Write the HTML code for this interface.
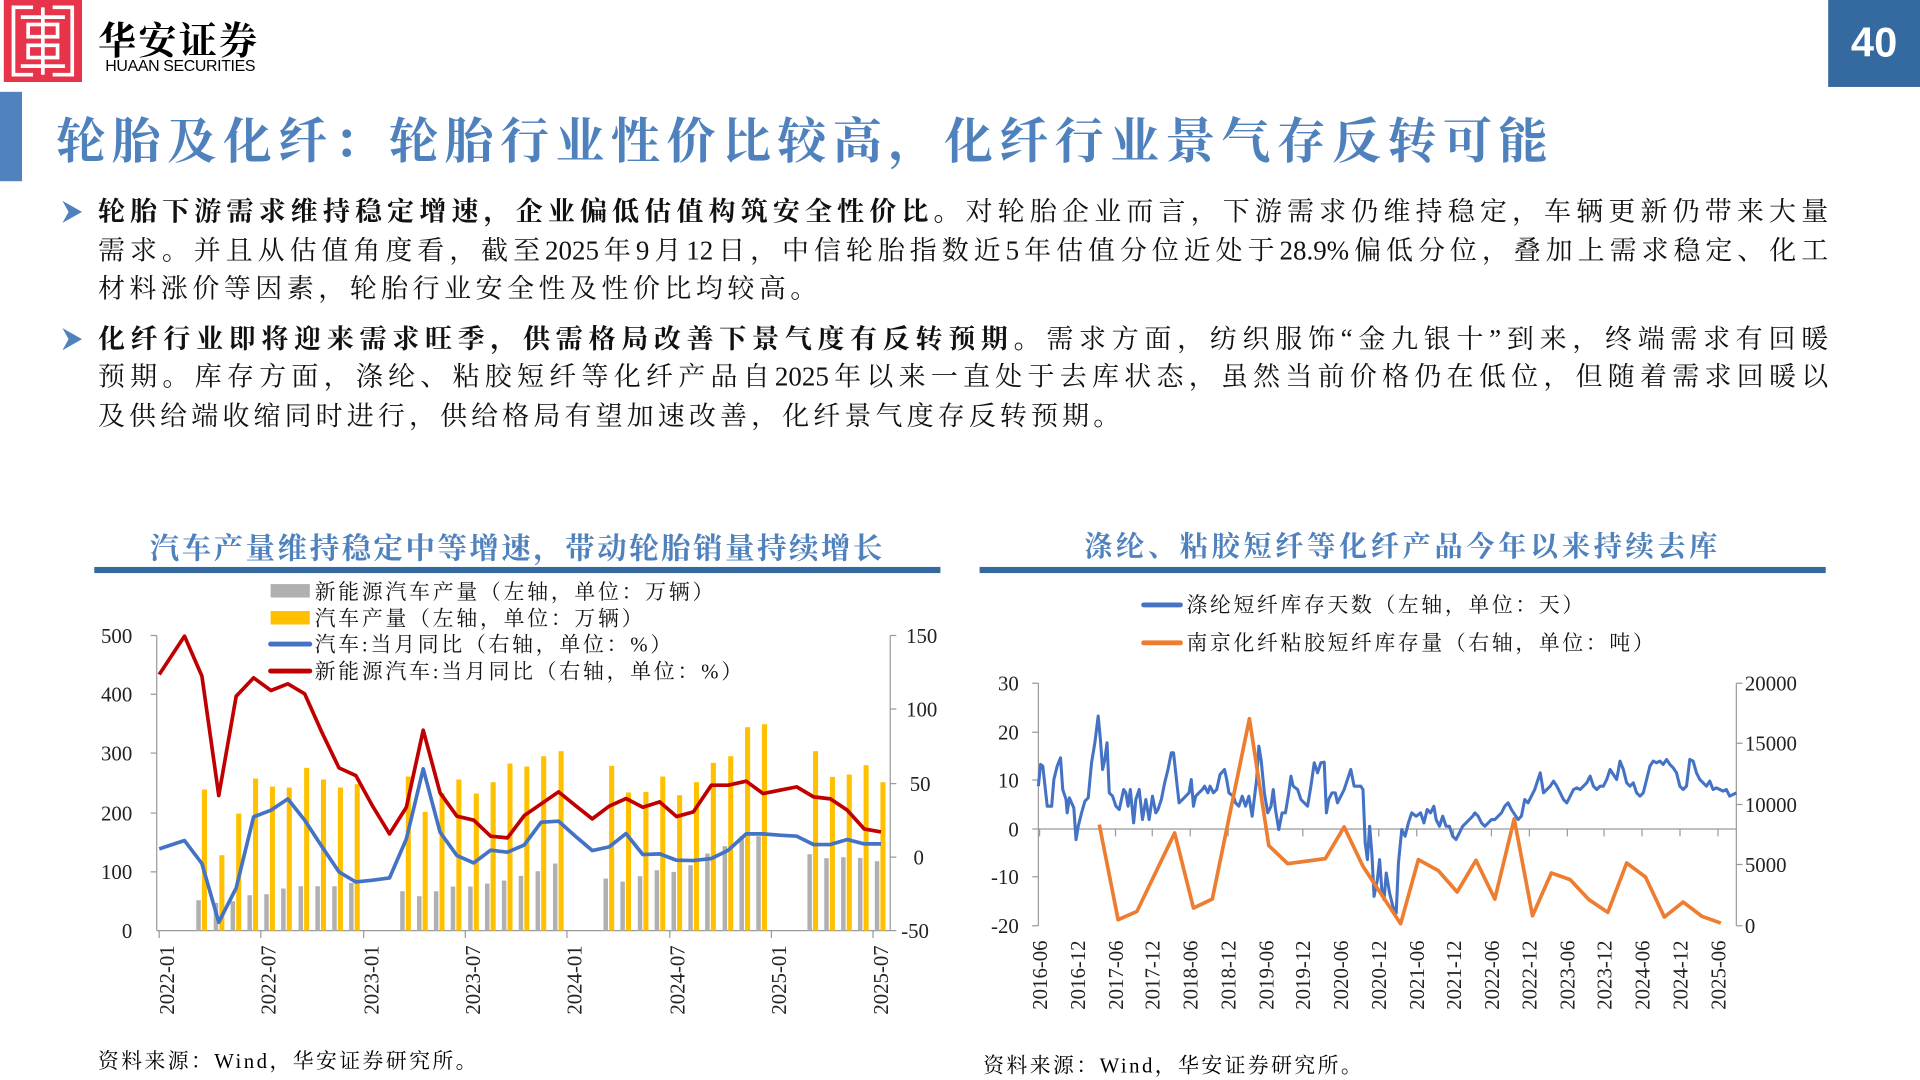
<!DOCTYPE html>
<html><head><meta charset="utf-8"><style>
html,body{margin:0;padding:0;width:1920px;height:1080px;overflow:hidden;background:#fff}
#r{position:absolute;left:0;top:0;width:1568px;height:882px;transform:scale(1.22449);transform-origin:0 0;font-family:"Liberation Serif","Noto Serif CJK SC",serif}
.a{position:absolute;white-space:nowrap}
.ln{position:absolute;left:80px;width:1413px;font-size:22px;line-height:32px;text-align:justify;text-align-last:justify;color:#111}
.b{font-weight:bold}
</style></head><body><div id="r">
<svg class="a" style="left:3px;top:0" width="64" height="67" viewBox="0 0 64 67">
<rect width="64" height="67" fill="#e8344a"/>
<g fill="none" stroke="#fff" stroke-width="3">
<path d="M24 6H8V61H24M40 6H56V61H40"/>
<rect x="20" y="20" width="24" height="10"/><rect x="20" y="37" width="24" height="10"/>
<path d="M32 6V61M14 14H50M14 54H50"/>
</g></svg>
<div class="a" style="left:80px;top:8px;font-size:31px;font-family:'Noto Serif CJK SC',serif;font-weight:bold;letter-spacing:2px">华安证券</div>
<div class="a" style="left:86px;top:46px;font-size:13px;font-family:'Liberation Sans',sans-serif;letter-spacing:-0.3px">HUAAN SECURITIES</div>
<div class="a" style="left:1493px;top:0;width:75px;height:71px;background:#346a9f;color:#fff;font:bold 34px 'Liberation Sans',sans-serif;text-align:center;line-height:71px">40</div>
<div class="a" style="left:0;top:75px;width:18px;height:73px;background:#5082be"></div>
<div class="a" style="left:46px;top:86px;font-size:40px;line-height:54px;font-weight:bold;color:#4f81bd;font-family:'Noto Serif CJK SC',serif;letter-spacing:5.3px">轮胎及化纤：轮胎行业性价比较高，化纤行业景气存反转可能</div>
<svg class="a" style="left:50px;top:163px" width="18" height="20"><path d="M1 1L17 10L1 19L6 10Z" fill="#4f81bd"/></svg>
<svg class="a" style="left:50px;top:267px" width="18" height="20"><path d="M1 1L17 10L1 19L6 10Z" fill="#4f81bd"/></svg>
<div class="ln" style="top:157px"><span class="b">轮胎下游需求维持稳定增速，企业偏低估值构筑安全性价比。</span>对轮胎企业而言，下游需求仍维持稳定，车辆更新仍带来大量</div>
<div class="ln" style="top:189px">需求。并且从估值角度看，截至2025年9月12日，中信轮胎指数近5年估值分位近处于28.9%偏低分位，叠加上需求稳定、化工</div>
<div class="ln" style="top:220px;text-align-last:left;letter-spacing:3.7px">材料涨价等因素，轮胎行业安全性及性价比均较高。</div>
<div class="ln" style="top:261px"><span class="b">化纤行业即将迎来需求旺季，供需格局改善下景气度有反转预期。</span>需求方面，纺织服饰“金九银十”到来，终端需求有回暖</div>
<div class="ln" style="top:292px">预期。库存方面，涤纶、粘胶短纤等化纤产品自2025年以来一直处于去库状态，虽然当前价格仍在低位，但随着需求回暖以</div>
<div class="ln" style="top:324px;text-align-last:left;letter-spacing:3.4px">及供给端收缩同时进行，供给格局有望加速改善，化纤景气度存反转预期。</div>

<div class="a" style="left:77px;width:691px;top:428px;text-align:center;font-size:24px;font-weight:bold;color:#4f81bd;letter-spacing:2.1px;font-family:'Noto Serif CJK SC',serif">汽车产量维持稳定中等增速，带动轮胎销量持续增长</div>
<div class="a" style="left:800px;width:691px;top:428px;text-align:center;font-size:23px;font-weight:bold;color:#4f81bd;letter-spacing:3px;font-family:'Noto Serif CJK SC',serif">涤纶、粘胶短纤等化纤产品今年以来持续去库</div>
<div class="a" style="left:77px;top:463px;width:691px;height:5px;background:#346a9f"></div>
<div class="a" style="left:800px;top:463px;width:691px;height:5px;background:#346a9f"></div>

<svg class="a" style="left:0;top:0" width="1568" height="882" font-family="Liberation Serif,Noto Serif CJK SC,serif">
<g font-size="17" fill="#111" letter-spacing="2.3">
<rect x="221" y="477" width="32" height="11" fill="#b0b0b0"/><text x="257" y="489">新能源汽车产量（左轴，单位：万辆）</text>
<rect x="221" y="499" width="32" height="11" fill="#ffc000"/><text x="257" y="511">汽车产量（左轴，单位：万辆）</text>
<line x1="221" y1="526" x2="253" y2="526" stroke="#4472c4" stroke-width="4" stroke-linecap="round"/><text x="257" y="532">汽车:当月同比（右轴，单位：%）</text>
<line x1="221" y1="548" x2="253" y2="548" stroke="#c00000" stroke-width="4" stroke-linecap="round"/><text x="257" y="554">新能源汽车:当月同比（右轴，单位：%）</text>
</g>
<g stroke="#9a9a9a" stroke-width="1">
<line x1="128" y1="519" x2="128" y2="760"/><line x1="727" y1="519" x2="727" y2="760"/><line x1="128" y1="760" x2="727" y2="760"/>
<path d="M123 519H128M123 567H128M123 615H128M123 664H128M123 712H128M727 519H732M727 579H732M727 640H732M727 700H732M727 760H732"/>
<path d="M130 760V766M213 760V766M297 760V766M380 760V766M463 760V766M547 760V766M630 760V766M713 760V766"/>
</g>
<g font-size="17" fill="#222" text-anchor="end">
<text x="108" y="525">500</text><text x="108" y="573">400</text><text x="108" y="621">300</text><text x="108" y="670">200</text><text x="108" y="718">100</text><text x="108" y="766">0</text>
</g>
<g font-size="17" fill="#222">
<text x="740" y="525">150</text><text x="740" y="585">100</text><text x="743" y="646">50</text><text x="746" y="706">0</text><text x="736" y="766">-50</text>
</g>
<g font-size="17" fill="#222" text-anchor="end">
<text transform="translate(142,772) rotate(-90)">2022-01</text>
<text transform="translate(225,772) rotate(-90)">2022-07</text>
<text transform="translate(309,772) rotate(-90)">2023-01</text>
<text transform="translate(392,772) rotate(-90)">2023-07</text>
<text transform="translate(475,772) rotate(-90)">2024-01</text>
<text transform="translate(559,772) rotate(-90)">2024-07</text>
<text transform="translate(642,772) rotate(-90)">2025-01</text>
<text transform="translate(725,772) rotate(-90)">2025-07</text>
</g>
<g transform="translate(67.2,456.9) scale(0.4587,0.2723)">
<g fill="#b0b0b0">
<rect x="203" y="1022" width="8" height="91"/><rect x="234" y="1030" width="8" height="83"/><rect x="264" y="1025" width="8" height="88"/><rect x="294" y="1007" width="8" height="106"/><rect x="324" y="1004" width="8" height="109"/><rect x="354" y="987" width="8" height="126"/><rect x="385" y="980" width="8" height="133"/><rect x="415" y="980" width="8" height="133"/><rect x="445" y="980" width="8" height="133"/><rect x="475" y="970" width="8" height="143"/>
<rect x="566" y="995" width="8" height="118"/><rect x="596" y="1010" width="8" height="103"/><rect x="626" y="995" width="8" height="118"/><rect x="656" y="981" width="8" height="132"/><rect x="687" y="981" width="8" height="132"/><rect x="717" y="972" width="8" height="141"/><rect x="747" y="963" width="8" height="150"/><rect x="777" y="949" width="8" height="164"/><rect x="807" y="935" width="8" height="178"/><rect x="838" y="912" width="8" height="201"/>
<rect x="928" y="957" width="8" height="156"/><rect x="958" y="966" width="8" height="147"/><rect x="989" y="950" width="8" height="163"/><rect x="1019" y="932" width="8" height="181"/><rect x="1049" y="937" width="8" height="176"/><rect x="1079" y="917" width="8" height="196"/><rect x="1109" y="882" width="8" height="231"/><rect x="1140" y="860" width="8" height="253"/><rect x="1170" y="830" width="8" height="283"/><rect x="1200" y="830" width="8" height="283"/>
<rect x="1291" y="884" width="8" height="229"/><rect x="1321" y="896" width="8" height="217"/><rect x="1351" y="893" width="8" height="220"/><rect x="1381" y="895" width="8" height="218"/><rect x="1411" y="905" width="8" height="208"/>
</g>
<g fill="#ffc000">
<rect x="213" y="690" width="9" height="423"/><rect x="244" y="887" width="9" height="226"/><rect x="274" y="762" width="9" height="351"/><rect x="304" y="657" width="9" height="456"/><rect x="334" y="681" width="9" height="432"/><rect x="364" y="684" width="9" height="429"/><rect x="395" y="625" width="9" height="488"/><rect x="425" y="660" width="9" height="453"/><rect x="455" y="684" width="9" height="429"/><rect x="485" y="674" width="9" height="439"/>
<rect x="576" y="651" width="9" height="462"/><rect x="606" y="757" width="9" height="356"/><rect x="636" y="700" width="9" height="413"/><rect x="666" y="660" width="9" height="453"/><rect x="697" y="702" width="9" height="411"/><rect x="727" y="668" width="9" height="445"/><rect x="757" y="612" width="9" height="501"/><rect x="787" y="621" width="9" height="492"/><rect x="817" y="590" width="9" height="523"/><rect x="848" y="575" width="9" height="538"/>
<rect x="938" y="619" width="9" height="494"/><rect x="968" y="699" width="9" height="414"/><rect x="999" y="697" width="9" height="416"/><rect x="1029" y="651" width="9" height="462"/><rect x="1059" y="707" width="9" height="406"/><rect x="1089" y="668" width="9" height="445"/><rect x="1119" y="610" width="9" height="503"/><rect x="1150" y="590" width="9" height="523"/><rect x="1180" y="503" width="9" height="610"/><rect x="1210" y="494" width="9" height="619"/>
<rect x="1301" y="575" width="9" height="538"/><rect x="1331" y="652" width="9" height="461"/><rect x="1361" y="645" width="9" height="468"/><rect x="1391" y="617" width="9" height="496"/><rect x="1421" y="668" width="9" height="445"/>
</g>
<polyline fill="none" stroke="#4472c4" stroke-width="3" stroke-linejoin="round" vector-effect="non-scaling-stroke" points="137,868 182,843 213,912 243,1088 274,985 305,772 336,752 366,718 396,782 427,862 457,937 487,967 517,962 547,955 577,838 607,628 637,818 667,888 697,910 727,872 757,878 787,856 817,788 848,785 878,830 908,873 938,862 968,822 998,885 1028,883 1058,902 1088,903 1120,897 1150,872 1182,823 1212,823 1242,827 1272,830 1302,855 1332,855 1362,840 1392,853 1422,853"/>
<polyline fill="none" stroke="#c00000" stroke-width="3" stroke-linejoin="round" vector-effect="non-scaling-stroke" points="137,345 182,230 213,350 243,708 274,410 305,355 336,393 366,373 396,403 427,520 457,625 487,648 517,740 547,823 577,743 607,512 637,700 667,770 697,782 727,830 757,835 787,768 817,733 848,697 878,738 908,778 938,740 968,717 998,743 1028,727 1058,771 1088,757 1120,677 1150,677 1182,665 1212,702 1242,692 1272,682 1302,712 1332,718 1362,752 1392,808 1422,817"/>
</g>

<g font-size="17" fill="#111" letter-spacing="2.2">
<line x1="934" y1="494" x2="964" y2="494" stroke="#4472c4" stroke-width="4" stroke-linecap="round"/><text x="969" y="500">涤纶短纤库存天数（左轴，单位：天）</text>
<line x1="934" y1="525" x2="964" y2="525" stroke="#ed7d31" stroke-width="4" stroke-linecap="round"/><text x="969" y="531">南京化纤粘胶短纤库存量（右轴，单位：吨）</text>
</g>
<g stroke="#9a9a9a" stroke-width="1">
<line x1="848" y1="558" x2="848" y2="756"/><line x1="1418" y1="558" x2="1418" y2="756"/><line x1="848" y1="677" x2="1418" y2="677"/>
<path d="M843 558H848M843 598H848M843 637H848M843 677H848M843 716H848M843 756H848M1418 558H1423M1418 607H1423M1418 657H1423M1418 706H1423M1418 756H1423"/>
<path d="M849 677V683M880 677V683M911 677V683M941 677V683M972 677V683M1003 677V683M1034 677V683M1064 677V683M1095 677V683M1126 677V683M1157 677V683M1187 677V683M1218 677V683M1249 677V683M1280 677V683M1310 677V683M1341 677V683M1372 677V683M1403 677V683"/>
</g>
<g font-size="17" fill="#222" text-anchor="end">
<text x="832" y="564">30</text><text x="832" y="604">20</text><text x="832" y="643">10</text><text x="832" y="683">0</text><text x="832" y="722">-10</text><text x="832" y="762">-20</text>
</g>
<g font-size="17" fill="#222">
<text x="1425" y="564">20000</text><text x="1425" y="613">15000</text><text x="1425" y="663">10000</text><text x="1425" y="712">5000</text><text x="1425" y="762">0</text>
</g>
<g font-size="17" fill="#222" text-anchor="end">
<text transform="translate(855,768) rotate(-90)">2016-06</text>
<text transform="translate(886,768) rotate(-90)">2016-12</text>
<text transform="translate(917,768) rotate(-90)">2017-06</text>
<text transform="translate(947,768) rotate(-90)">2017-12</text>
<text transform="translate(978,768) rotate(-90)">2018-06</text>
<text transform="translate(1009,768) rotate(-90)">2018-12</text>
<text transform="translate(1040,768) rotate(-90)">2019-06</text>
<text transform="translate(1070,768) rotate(-90)">2019-12</text>
<text transform="translate(1101,768) rotate(-90)">2020-06</text>
<text transform="translate(1132,768) rotate(-90)">2020-12</text>
<text transform="translate(1163,768) rotate(-90)">2021-06</text>
<text transform="translate(1193,768) rotate(-90)">2021-12</text>
<text transform="translate(1224,768) rotate(-90)">2022-06</text>
<text transform="translate(1255,768) rotate(-90)">2022-12</text>
<text transform="translate(1286,768) rotate(-90)">2023-06</text>
<text transform="translate(1316,768) rotate(-90)">2023-12</text>
<text transform="translate(1347,768) rotate(-90)">2024-06</text>
<text transform="translate(1378,768) rotate(-90)">2024-12</text>
<text transform="translate(1409,768) rotate(-90)">2025-06</text>
</g>
<g transform="translate(792.8,456.6) scale(0.4524,0.2727)">
<polyline fill="none" stroke="#4472c4" stroke-width="2.5" stroke-linejoin="round" vector-effect="non-scaling-stroke" points="122,680 126,615 130,620 134,680 138,740 146,740 150,660 156,620 162,595 166,690 172,720 174,760 178,715 182,730 186,745 190,840 194,800 200,760 206,725 212,715 218,610 224,550 230,470 234,540 238,630 242,600 246,550 250,700 256,710 262,740 268,750 272,720 276,690 280,700 284,740 288,690 294,790 298,720 304,690 310,780 316,720 322,780 328,710 334,760 338,750 344,720 350,670 356,630 362,580 366,580 370,640 376,730 382,720 388,710 394,700 398,660 402,740 406,710 412,700 418,690 422,680 428,700 432,680 438,700 444,690 450,645 458,630 462,660 466,700 474,710 478,730 484,740 490,710 496,740 502,710 508,770 512,715 516,660 520,560 524,600 530,700 536,760 542,740 546,690 550,750 556,810 562,760 568,760 574,700 578,650 582,680 590,690 596,720 602,730 608,740 614,680 620,610 626,640 632,610 638,608 642,760 646,720 652,700 658,700 662,730 668,710 674,690 680,660 686,630 692,680 698,680 704,680 708,690 712,850 716,900 720,800 724,880 728,1010 734,960 738,900 742,990 746,1020 750,940 756,1000 762,1040 768,1060 772,910 778,810 784,830 790,790 796,760 804,770 812,760 818,790 824,750 830,760 836,740 840,780 846,800 852,770 858,800 864,800 870,830 876,840 882,820 888,800 894,790 900,780 906,770 910,760 916,770 922,790 928,800 934,790 940,780 946,780 952,770 958,760 964,740 970,730 976,750 982,765 988,780 994,770 1000,720 1006,730 1012,710 1018,690 1024,660 1028,640 1034,700 1040,690 1046,680 1052,665 1058,680 1064,700 1070,720 1076,730 1082,710 1088,690 1094,685 1100,690 1106,680 1112,670 1118,650 1124,680 1130,690 1136,680 1142,680 1148,660 1154,630 1160,645 1166,660 1172,605 1178,630 1184,670 1190,680 1196,670 1202,700 1208,710 1214,700 1220,660 1226,620 1232,605 1238,610 1244,605 1250,615 1256,600 1262,615 1268,625 1274,640 1280,680 1286,690 1292,680 1298,600 1304,605 1310,640 1316,660 1322,670 1328,680 1334,665 1340,690 1346,685 1352,690 1358,695 1364,690 1370,710 1376,705 1382,700"/>
<polyline fill="none" stroke="#ed7d31" stroke-width="3" stroke-linejoin="round" vector-effect="non-scaling-stroke" points="232,795 266,1080 300,1055 368,820 402,1045 436,1018 503,478 538,858 572,912 640,897 674,802 708,920 776,1092 808,900 844,933 878,997 912,902 946,1018 981,778 1014,1068 1048,940 1082,960 1116,1020 1150,1058 1184,910 1218,952 1252,1072 1286,1027 1320,1070 1354,1090"/>
</g>
</svg>
<div class="a" style="left:80px;top:852px;font-size:17px;letter-spacing:2px">资料来源：Wind，华安证券研究所。</div>
<div class="a" style="left:803px;top:856px;font-size:17px;letter-spacing:2px">资料来源：Wind，华安证券研究所。</div>
</div></body></html>
